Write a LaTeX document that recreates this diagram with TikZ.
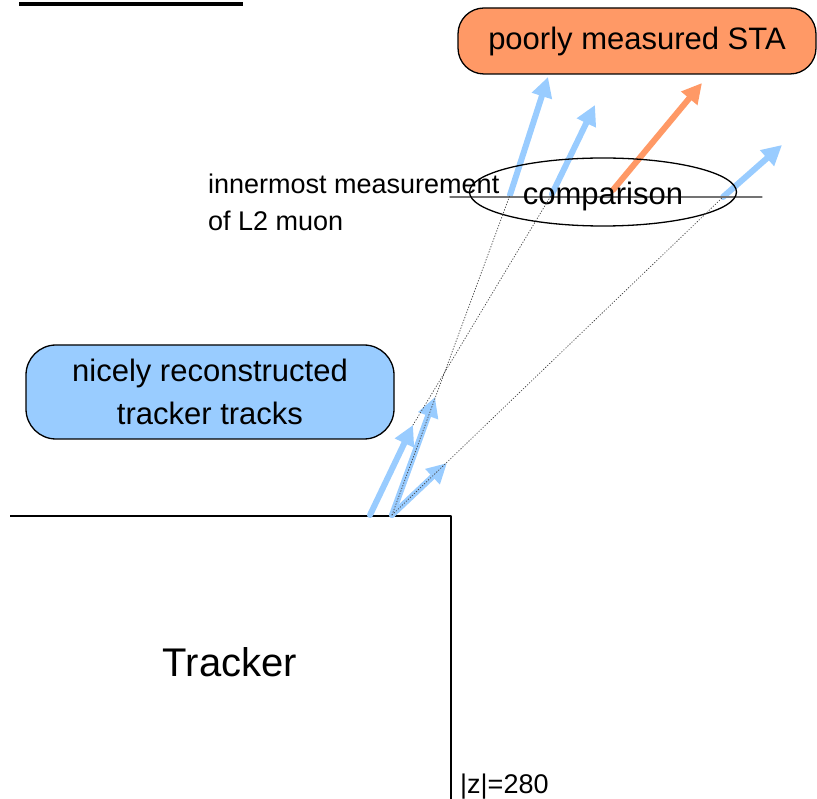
\documentclass[tikz,border=0pt]{standalone}
\usepackage{fontspec}
\setmainfont{Liberation Sans}
\usetikzlibrary{arrows.meta,shapes.geometric}
\definecolor{trkblue}{RGB}{153,204,255}
\definecolor{staorange}{RGB}{255,153,102}
\begin{document}
\begin{tikzpicture}[x=1pt, y=-1pt, line join=round, line cap=round, >={Triangle[length=20pt,width=20pt]}]
			\tikzset{box/.style={draw, line width=1.3pt, rounded corners=26pt, align=center, font=\fontsize{31}{43}\selectfont},
				trk/.style={->, line width=6pt, trkblue},
				ext/.style={dotted, line width=0.8pt, black!70}}
			\useasboundingbox (0,0) rectangle (817,799);
			% top bar and tracker
			\coordinate (bl) at (19,4); \coordinate (br) at (243,4);
			\draw[line width=4pt, line cap=butt] (bl)--(br);
			\coordinate (tl) at (10,516); \coordinate (tc) at (451,516); \coordinate (tb) at (451,799);
			\draw[line width=2.5pt, line cap=butt] (tl)--(tc)--(tb);
			\node[font=\fontsize{40}{48}\selectfont] (trkr) at (230,662) {Tracker};
			\node[anchor=base west, inner sep=0pt, font=\fontsize{27}{32}\selectfont] (zpos) at (460,793) {|z|=280};
			% boxes
			\node[box, fill=staorange, minimum width=358pt, minimum height=66pt] (sta) at (637,41) {poorly measured STA};
			\node[box, fill=trkblue, minimum width=368pt, minimum height=94pt, rounded corners=30pt] (tks) at (210,392) {nicely reconstructed\\tracker tracks};
			% arrows
			\coordinate (b1) at (370,515); \coordinate (t1) at (413,425);
			\coordinate (b2) at (392,515); \coordinate (t2) at (435,397);
			\coordinate (t3) at (447,463);
			\coordinate (sA) at (510,195); \coordinate (eA) at (548,77);
			\coordinate (sB) at (552,194); \coordinate (eB) at (595,105);
			\coordinate (sO) at (613,190); \coordinate (eO) at (702,83);
			\coordinate (sD) at (723,197); \coordinate (eD) at (782,145);
			\draw[trk] (b1)--(t1);
			\draw[trk] (b2)--(t2);
			\draw[trk] (b2)--(t3);
			\draw[trk] (sA)--(eA);
			\draw[trk] (sB)--(eB);
			\draw[trk, staorange] (sO)--(eO);
			\draw[trk] (sD)--(eD);
			% comparison
			\coordinate (ml) at (450,197); \coordinate (mr) at (762,197);
			\draw[line width=1.3pt, black!55] (ml)--(mr);
			\node[ellipse, draw, line width=1.3pt, minimum width=267pt, minimum height=68pt, inner sep=0pt, text height=32pt, text depth=6pt, font=\fontsize{31}{36}\selectfont] (cmp) at (603,192) {comparison};
			\node[anchor=west, inner sep=0pt, align=left, font=\fontsize{27}{37}\selectfont] (inm) at (208,202) {innermost measurement\\of L2 muon};
			\draw[ext] (b2)--(sA);
			\draw[ext] (t1)--(sB);
			\draw[ext] (b2)--(sD);
			
		\end{tikzpicture}
\end{document}
